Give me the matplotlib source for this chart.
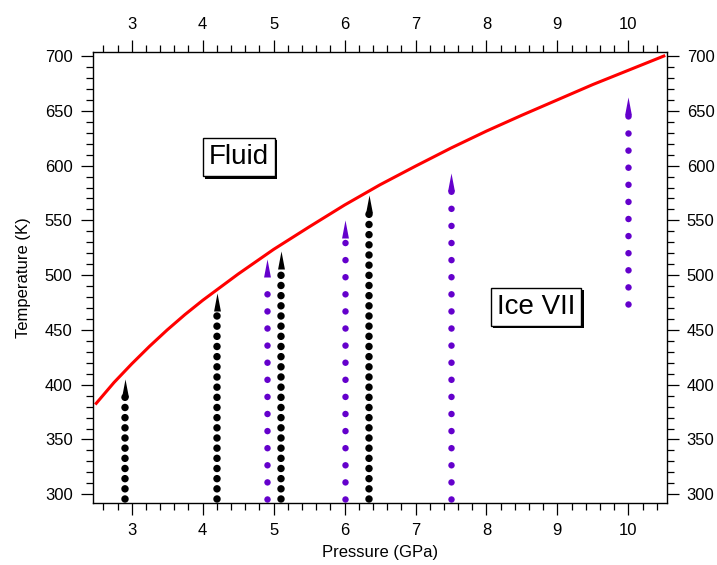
import matplotlib
matplotlib.use('Agg')
import matplotlib.pyplot as plt
import matplotlib.patheffects as pe
from matplotlib.path import Path
from matplotlib.ticker import MultipleLocator

plt.rcParams['font.family'] = ['Liberation Sans', 'DejaVu Sans']
plt.rcParams['lines.scale_dashes'] = False

# melting curve
P_melt = [2.5, 2.75, 3.0, 3.25, 3.5, 3.75, 4.0, 4.5, 5.0, 5.5, 6.0, 6.5, 7.0, 7.5, 8.0, 8.5, 9.0, 9.5, 10.0, 10.5]
T_melt = [383, 402, 419, 435, 450, 464, 477, 501, 523.5, 544, 564, 582.5, 599.5, 616, 631.5, 646, 660, 674, 687, 700]

# heating runs: pressure, first and last temperature
black_P = [2.9, 4.2, 5.1, 6.35]
black_Tstart = [296, 296, 296, 296]
black_Tend = [389, 467, 506, 557]

purple_P = [4.9, 6.0, 7.5, 10.0]
purple_Tstart = [296, 296, 296, 474]
purple_Tend = [498, 534, 577, 646]

purple = '#6400CC'

# narrow arrow head, base sits on the last point
arrow = Path([(-0.19, 0), (0, 1), (0.19, 0), (-0.19, 0)],
             [Path.MOVETO, Path.LINETO, Path.LINETO, Path.CLOSEPOLY])

fig = plt.figure(figsize=(7.17, 5.65), dpi=100)
ax = fig.add_axes([0.1293, 0.1097, 0.8005, 0.7983])

def runs(P, T0, T1, color, lw, gap):
    for p, a, b in zip(P, T0, T1):
        ax.plot([p, p], [a, b + 0.5], color=color, lw=lw,
                linestyle=(0, (0.01, gap)), dash_capstyle='round', solid_capstyle='round')
        ax.plot([p], [b], marker=arrow, ms=26, color=color, mew=0, ls='none')

runs(black_P, black_Tstart, black_Tend, 'black', 5.4, 7.31)
runs(purple_P, purple_Tstart, purple_Tend, purple, 4.7, 12.3)

ax.plot(P_melt, T_melt, color='red', lw=2.2)

for s, x, y in [('Fluid', 4.51, 607.5), ('Ice VII', 8.70, 471.0)]:
    t = ax.text(x, y, s, fontsize=20, ha='center', va='center',
                bbox=dict(boxstyle='square,pad=0.22', fc='white', ec='black', lw=1))
    t.get_bbox_patch().set_path_effects([
        pe.SimplePatchShadow(offset=(1.6, -1.6), shadow_rgbFace='black', alpha=1),
        pe.Normal()])

ax.set_xlim(2.45, 10.54)
ax.set_ylim(292, 703.7)
ax.xaxis.set_major_locator(MultipleLocator(1))
ax.xaxis.set_minor_locator(MultipleLocator(0.2))
ax.yaxis.set_major_locator(MultipleLocator(50))
ax.yaxis.set_minor_locator(MultipleLocator(10))
ax.tick_params(which='both', direction='out', top=True, right=True,
               labeltop=True, labelright=True, labelsize=12, width=0.9)
ax.tick_params(which='major', length=8.5, pad=6)
ax.tick_params(which='minor', length=5)
for sp in ax.spines.values():
    sp.set_linewidth(1.0)

ax.set_xlabel('Pressure (GPa)', fontsize=12, labelpad=5)
ax.set_ylabel('Temperature (K)', fontsize=12, labelpad=10)

plt.savefig('out.png', dpi=100)
